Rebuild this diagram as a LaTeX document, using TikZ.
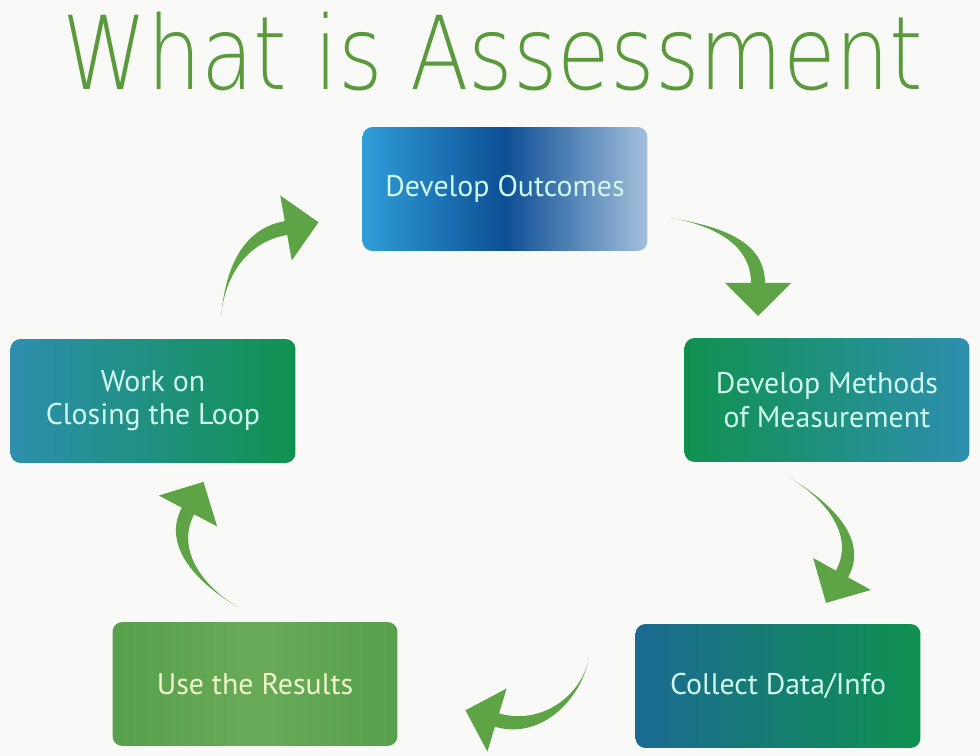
\documentclass[tikz,border=0pt]{standalone}
\usepackage{fontspec}
\usepackage{xcolor}
\usepackage{tikz}
\usetikzlibrary{calc}
\newfontfamily\titlefont{DejaVu Sans ExtraLight}
\newfontfamily\boxfont{PT Sans}
\definecolor{pagebg}{HTML}{F9FAF8}
\definecolor{titlegreen}{HTML}{5A9A3C}
\definecolor{arrowgreen}{HTML}{5EA447}
\definecolor{boxtext}{HTML}{CFF8EE}
\definecolor{usetext}{HTML}{EEF6CC}
\definecolor{outA}{HTML}{2F9ED8}
\definecolor{outB}{HTML}{0D4F95}
\definecolor{outC}{HTML}{A3BFDC}
\definecolor{tealblue}{HTML}{2E8FAE}
\definecolor{midgreen}{HTML}{109150}
\definecolor{darkteal}{HTML}{1B6A92}
\definecolor{usegreen}{HTML}{57A04B}
\definecolor{uselight}{HTML}{69AA57}

% tapered bent arrow: tail, out angle, head base, head angle
\newcommand{\bentarrow}[4]{%
  \pgfmathsetmacro{\headin}{#4+180}
  \fill[arrowgreen] (#1) to[out=#2,in=\headin] ($(#3)+(#4+90:7)$) -- ($(#3)+(#4+90:33)$)
    -- ($(#3)+(#4:33)$) -- ($(#3)+(#4-90:33)$) -- ($(#3)+(#4-90:7)$) to[out=\headin,in=#2] (#1) -- cycle;}

\begin{document}
\begin{tikzpicture}[x=0.02cm,y=0.02cm,
  stagebox/.style={rounded corners=0.2cm,minimum width=5.7cm,minimum height=2.48cm,align=center,
    inner sep=0pt,text=boxtext,font=\boxfont\fontsize{17}{19}\selectfont}]
  \useasboundingbox (0,0) rectangle (980,-756);
  \fill[pagebg] (0,0) rectangle (980,-756);
  \node[text=titlegreen,font=\titlefont\fontsize{58}{60}\selectfont,xscale=0.84,transform shape] (title) at (493,-52) {What is Assessment};

  % the five stages
  \node[stagebox,left color=outA,right color=outC,middle color=outB] (outcomes) at (505,-189) {Develop Outcomes};
  \node[stagebox,left color=midgreen,right color=tealblue] (methods) at (827,-400) {Develop Methods\\of Measurement};
  \node[stagebox,left color=darkteal,right color=midgreen] (collect) at (778,-686) {Collect Data/Info};
  \node[stagebox,left color=usegreen,right color=usegreen,middle color=uselight,text=usetext] (results) at (255,-684) {Use the Results};
  \node[stagebox,left color=tealblue,right color=midgreen] (closing) at (153,-401) {Work on\\Closing the Loop};

  % arrows between the stages
  \coordinate (tail1) at (671,-218); \coordinate (head1) at (758,-283);
  \coordinate (tail2) at (790,-478); \coordinate (head2) at (842,-574);
  \coordinate (tail3) at (589,-657); \coordinate (head3) at (497,-720);
  \coordinate (tail4) at (238,-607); \coordinate (head4) at (188,-511);
  \coordinate (tail5) at (221,-317); \coordinate (head5) at (286,-228);
  \bentarrow{tail1}{-10}{head1}{-90}
  \bentarrow{tail2}{-31}{head2}{-119}
  \bentarrow{tail3}{-100}{head3}{163}
  \bentarrow{tail4}{150}{head4}{62}
  \bentarrow{tail5}{85}{head5}{10}
\end{tikzpicture}
\end{document}
